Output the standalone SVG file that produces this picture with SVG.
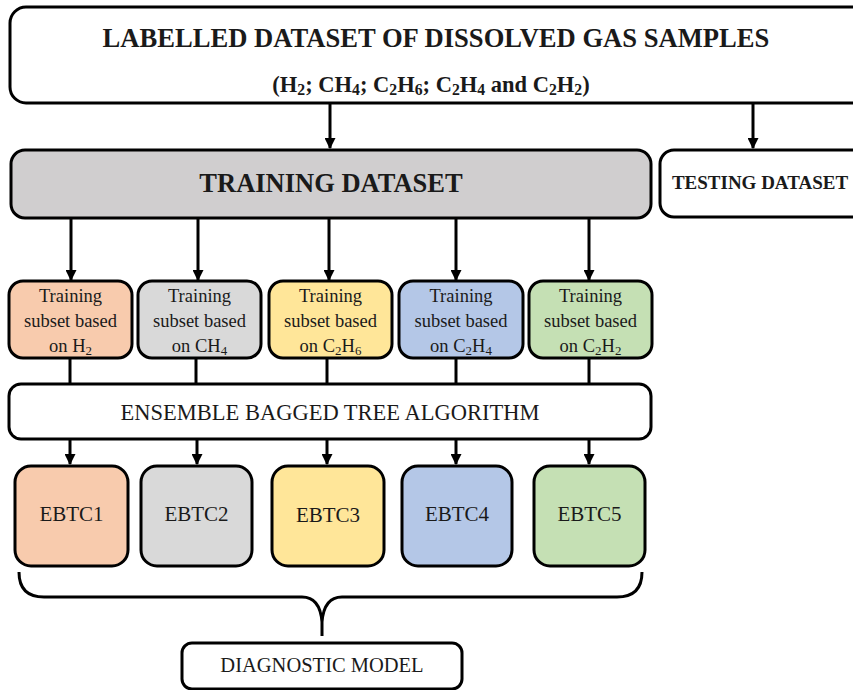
<svg xmlns="http://www.w3.org/2000/svg" width="853" height="690" viewBox="0 0 853 690">
  <style>
    .box { stroke: #000; stroke-width: 3; }
    .wire { stroke: #000; stroke-width: 3; fill: none; }
    .serif { font-family: "Liberation Serif", "Times New Roman", serif; fill: #1a1a1a; }
    .bold { font-weight: bold; }
    .sub { font-size: 0.7em; }
  </style>
  <defs>
    <marker id="arrow" viewBox="0 0 10 10" refX="9" refY="5" markerWidth="11" markerHeight="11" markerUnits="userSpaceOnUse" orient="auto">
      <path d="M0,0 L10,5 L0,10 Z" fill="#000"/>
    </marker>
  </defs>

  <rect width="853" height="690" fill="#fff"/>

  <!-- connectors -->
  <g id="connectors">
    <line class="wire" x1="330" y1="104" x2="330" y2="148" marker-end="url(#arrow)"/>
    <line class="wire" x1="753" y1="104" x2="753" y2="148" marker-end="url(#arrow)"/>

    <line class="wire" x1="71" y1="218" x2="71" y2="280" marker-end="url(#arrow)"/>
    <line class="wire" x1="198" y1="218" x2="198" y2="280" marker-end="url(#arrow)"/>
    <line class="wire" x1="329" y1="218" x2="329" y2="280" marker-end="url(#arrow)"/>
    <line class="wire" x1="456" y1="218" x2="456" y2="280" marker-end="url(#arrow)"/>
    <line class="wire" x1="589" y1="218" x2="589" y2="280" marker-end="url(#arrow)"/>

    <line class="wire" x1="70" y1="358" x2="70" y2="384"/>
    <line class="wire" x1="196" y1="358" x2="196" y2="384"/>
    <line class="wire" x1="327" y1="358" x2="327" y2="384"/>
    <line class="wire" x1="456" y1="358" x2="456" y2="384"/>
    <line class="wire" x1="589" y1="358" x2="589" y2="384"/>

    <line class="wire" x1="70" y1="439" x2="70" y2="464" marker-end="url(#arrow)"/>
    <line class="wire" x1="197" y1="439" x2="197" y2="464" marker-end="url(#arrow)"/>
    <line class="wire" x1="327" y1="439" x2="327" y2="464" marker-end="url(#arrow)"/>
    <line class="wire" x1="456" y1="439" x2="456" y2="464" marker-end="url(#arrow)"/>
    <line class="wire" x1="589" y1="439" x2="589" y2="464" marker-end="url(#arrow)"/>

    <!-- brace gathering the five classifiers -->
    <path class="wire" stroke-width="2.5" d="M19,572 Q19,597 44,597 L302,597 Q320,597 322,622 L322,636 M322,622 Q324,597 342,597 L617,597 Q642,597 642,572"/>
  </g>

  <g id="labelled-dataset">
    <rect class="box" x="10" y="7" width="860" height="96" rx="16" fill="#fff"/>
    <text class="serif bold" x="436" y="47" font-size="26.6" text-anchor="middle">LABELLED DATASET OF DISSOLVED GAS SAMPLES</text>
    <text class="serif bold" x="431" y="92" font-size="22.5" text-anchor="middle">(H<tspan class="sub" dy="3">2</tspan><tspan dy="-3">; CH</tspan><tspan class="sub" dy="3">4</tspan><tspan dy="-3">; C</tspan><tspan class="sub" dy="3">2</tspan><tspan dy="-3">H</tspan><tspan class="sub" dy="3">6</tspan><tspan dy="-3">; C</tspan><tspan class="sub" dy="3">2</tspan><tspan dy="-3">H</tspan><tspan class="sub" dy="3">4</tspan><tspan dy="-3"> and C</tspan><tspan class="sub" dy="3">2</tspan><tspan dy="-3">H</tspan><tspan class="sub" dy="3">2</tspan><tspan dy="-3">)</tspan></text>
  </g>

  <g id="training-dataset">
    <rect class="box" x="11" y="150" width="640" height="68" rx="14" fill="#d0cecf"/>
    <text class="serif bold" x="331" y="192" font-size="26.5" text-anchor="middle">TRAINING DATASET</text>
  </g>

  <g id="testing-dataset">
    <rect class="box" x="660" y="150" width="210" height="67" rx="14" fill="#fff"/>
    <text class="serif bold" x="760" y="189" font-size="19" text-anchor="middle">TESTING DATASET</text>
  </g>

  <g id="subset-h2">
    <rect class="box" x="9" y="281" width="123" height="77" rx="14" fill="#f8cbad"/>
    <text class="serif" x="70.5" y="302" font-size="18.5" text-anchor="middle">Training</text>
    <text class="serif" x="70.5" y="327" font-size="18.5" text-anchor="middle">subset based</text>
    <text class="serif" x="70.5" y="352" font-size="18.5" text-anchor="middle">on H<tspan class="sub" dy="3">2</tspan></text>
  </g>
  <g id="subset-ch4">
    <rect class="box" x="138" y="281" width="123" height="77" rx="14" fill="#d9d9d9"/>
    <text class="serif" x="199.5" y="302" font-size="18.5" text-anchor="middle">Training</text>
    <text class="serif" x="199.5" y="327" font-size="18.5" text-anchor="middle">subset based</text>
    <text class="serif" x="199.5" y="352" font-size="18.5" text-anchor="middle">on CH<tspan class="sub" dy="3">4</tspan></text>
  </g>
  <g id="subset-c2h6">
    <rect class="box" x="269" y="281" width="123" height="77" rx="14" fill="#ffe699"/>
    <text class="serif" x="330.5" y="302" font-size="18.5" text-anchor="middle">Training</text>
    <text class="serif" x="330.5" y="327" font-size="18.5" text-anchor="middle">subset based</text>
    <text class="serif" x="330.5" y="352" font-size="18.5" text-anchor="middle">on C<tspan class="sub" dy="3">2</tspan><tspan dy="-3">H</tspan><tspan class="sub" dy="3">6</tspan></text>
  </g>
  <g id="subset-c2h4">
    <rect class="box" x="399" y="281" width="124" height="77" rx="14" fill="#b4c7e7"/>
    <text class="serif" x="461" y="302" font-size="18.5" text-anchor="middle">Training</text>
    <text class="serif" x="461" y="327" font-size="18.5" text-anchor="middle">subset based</text>
    <text class="serif" x="461" y="352" font-size="18.5" text-anchor="middle">on C<tspan class="sub" dy="3">2</tspan><tspan dy="-3">H</tspan><tspan class="sub" dy="3">4</tspan></text>
  </g>
  <g id="subset-c2h2">
    <rect class="box" x="529" y="281" width="123" height="77" rx="14" fill="#c5e0b4"/>
    <text class="serif" x="590.5" y="302" font-size="18.5" text-anchor="middle">Training</text>
    <text class="serif" x="590.5" y="327" font-size="18.5" text-anchor="middle">subset based</text>
    <text class="serif" x="590.5" y="352" font-size="18.5" text-anchor="middle">on C<tspan class="sub" dy="3">2</tspan><tspan dy="-3">H</tspan><tspan class="sub" dy="3">2</tspan></text>
  </g>

  <g id="ensemble-bagged-tree">
    <rect class="box" x="9" y="384" width="642" height="55" rx="12" fill="#fff"/>
    <text class="serif" x="330" y="420" font-size="22.5" text-anchor="middle">ENSEMBLE BAGGED TREE ALGORITHM</text>
  </g>

  <g id="ebtc1">
    <rect class="box" x="15" y="466" width="113" height="100" rx="16" fill="#f8cbad"/>
    <text class="serif" x="71.5" y="521" font-size="21" text-anchor="middle">EBTC1</text>
  </g>
  <g id="ebtc2">
    <rect class="box" x="141" y="466" width="111" height="100" rx="16" fill="#d9d9d9"/>
    <text class="serif" x="196.5" y="521" font-size="21" text-anchor="middle">EBTC2</text>
  </g>
  <g id="ebtc3">
    <rect class="box" x="272" y="466" width="112" height="100" rx="16" fill="#ffe699"/>
    <text class="serif" x="328" y="522" font-size="21" text-anchor="middle">EBTC3</text>
  </g>
  <g id="ebtc4">
    <rect class="box" x="402" y="466" width="110" height="100" rx="16" fill="#b4c7e7"/>
    <text class="serif" x="457" y="521" font-size="21" text-anchor="middle">EBTC4</text>
  </g>
  <g id="ebtc5">
    <rect class="box" x="534" y="466" width="111" height="100" rx="16" fill="#c5e0b4"/>
    <text class="serif" x="589.5" y="521" font-size="21" text-anchor="middle">EBTC5</text>
  </g>

  <g id="diagnostic-model">
    <rect class="box" x="182" y="643" width="280" height="46" rx="10" fill="#fff"/>
    <text class="serif" x="322" y="672" font-size="20.5" text-anchor="middle">DIAGNOSTIC MODEL</text>
  </g>
</svg>
